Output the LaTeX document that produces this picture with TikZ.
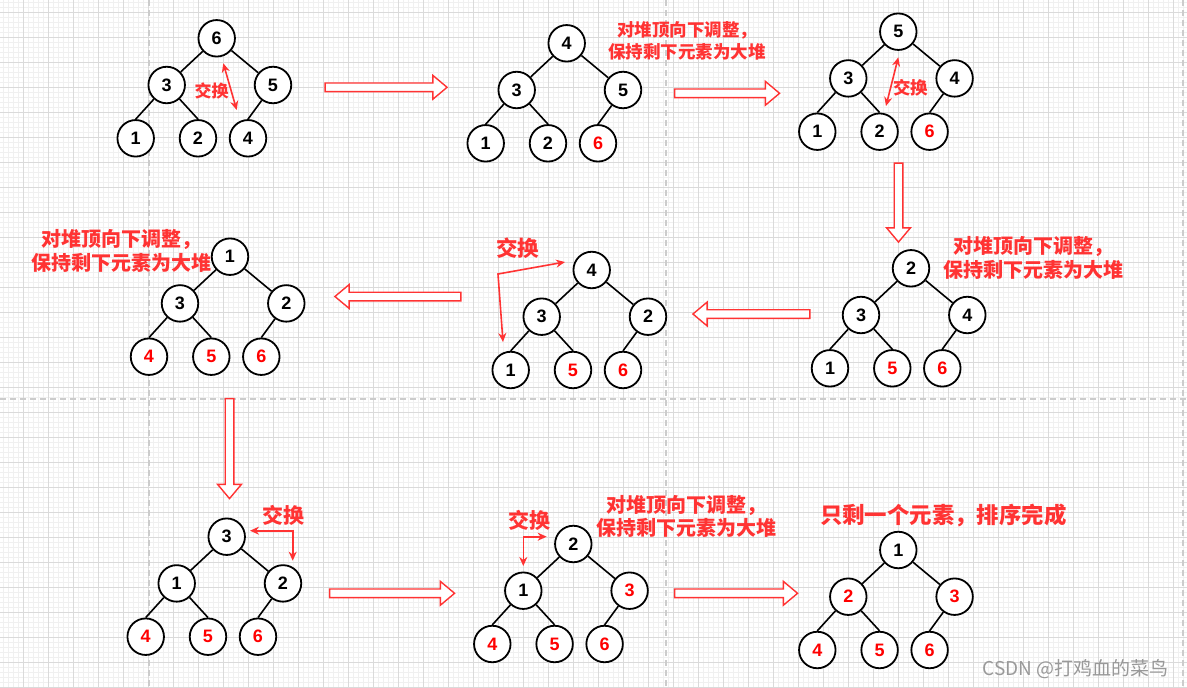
\documentclass[tikz,border=0pt]{standalone}
\usepackage{fontspec}
\setmainfont{Liberation Sans}
\newfontfamily\cjk{Noto Sans CJK SC}
\usetikzlibrary{arrows.meta,shapes.arrows}
\definecolor{hlred}{HTML}{FF3333}
\definecolor{numred}{HTML}{FF0000}
\definecolor{gridmajor}{HTML}{DADADA}
\definecolor{gridminor}{HTML}{F0F0F0}
\definecolor{sepgray}{HTML}{CCCCCC}

\begin{document}
\begin{tikzpicture}[x=1pt,y=-1pt,
    ball/.style={circle, draw, line width=1.8pt, fill=white, minimum size=36.5pt,
        inner sep=0pt, font=\fontsize{18}{18}\selectfont\bfseries},
    link/.style={line width=1.6pt},
    swap/.style={hlred, line width=1.6pt,
        {Stealth[length=9pt,width=8pt]}-{Stealth[length=9pt,width=8pt]}},
    note/.style 2 args={text=hlred, align=center, inner sep=0pt,
        font=\cjk\bfseries\fontsize{#1}{#2}\selectfont},
    flow/.style={single arrow, draw=hlred, fill=white, line width=1.4pt,
        inner sep=3.6pt, single arrow head extend=7.6pt,
        single arrow tip angle=80},
    sep/.style={sepgray, line width=1.4pt, dash pattern=on 6pt off 4pt},
]

% Red keys (already sorted)
\def\R{\color{numred}}

% One heap: name, root position, then the six keys in level order
\newcommand\heap[9]{
    \node[ball] (#1r) at (#2,#3) {#4};
    \node[ball] (#1a) at (#2-50,#3+46.7) {#5};
    \node[ball] (#1b) at (#2+56.3,#3+46.7) {#6};
    \node[ball] (#1c) at (#2-81,#3+100) {#7};
    \node[ball] (#1d) at (#2-18.7,#3+100) {#8};
    \node[ball] (#1e) at (#2+31.3,#3+100) {#9};
    \draw[link] (#1r) -- (#1a);
    \draw[link] (#1r) -- (#1b);
    \draw[link] (#1a) -- (#1c.north);
    \draw[link] (#1a) -- (#1d.north);
    \draw[link] (#1b) -- (#1e.north);
}

% Page and grid paper
\useasboundingbox (0,0) rectangle (1187,688);
\fill[white] (0,0) rectangle (1187,688);
\begin{scope}
    \clip (0,0) rectangle (1187,688);
    \begin{scope}[shift={(23.3,12.3)}]
        \draw[gridminor, line width=0.8pt, step=5pt] (-30,690) grid (1180,-30);
        \draw[gridmajor, line width=1pt, step=25pt] (-30,690) grid (1180,-30);
    \end{scope}
    \draw[sep] (149,0) -- (149,688);
    \draw[sep] (666,0) -- (666,688);
    \draw[sep] (1183,0) -- (1183,688);
    \draw[sep] (0,399) -- (1187,399);
\end{scope}

% Steps between heaps
\node[flow, minimum height=122pt] (F1) at (383.5,87.3) {};
\node[flow, minimum height=105pt] (F2) at (724.5,93.3) {};
\node[flow, minimum height=79pt, rotate=-90] (F3) at (898.5,200) {};
\node[flow, minimum height=117pt, rotate=180] (F4) at (754,314) {};
\node[flow, minimum height=126pt, rotate=180] (F5) at (400.5,296.5) {};
\node[flow, minimum height=100pt, rotate=-90] (F6) at (229.5,446) {};
\node[flow, minimum height=125pt] (F7) at (389.5,593.3) {};
\node[flow, minimum height=123pt] (F8) at (733.5,593.3) {};

% Heaps
\heap{A}{216.7}{38.3}{6}{3}{5}{1}{2}{4}
\heap{B}{566.7}{43.3}{4}{3}{5}{1}{2}{\R6}
\heap{C}{898.3}{31.7}{5}{3}{4}{1}{2}{\R6}
\heap{D}{911}{268.3}{2}{3}{4}{1}{\R5}{\R6}
\heap{E}{591.7}{270}{4}{3}{2}{1}{\R5}{\R6}
\heap{F}{230}{256.7}{1}{3}{2}{\R4}{\R5}{\R6}
\heap{G}{226.7}{536.7}{3}{1}{2}{\R4}{\R5}{\R6}
\heap{H}{573.3}{544}{2}{1}{\R3}{\R4}{\R5}{\R6}
\heap{I}{898.3}{550}{1}{\R2}{\R3}{\R4}{\R5}{\R6}

% Swaps
\coordinate (As1) at (223.3,63.3);
\coordinate (As2) at (236.7,110);
\draw[swap] (As1) -- (As2);
\node[note={17}{20}] (Aswap) at (211.7,91) {交换};

\coordinate (Cs1) at (898.3,57.3);
\coordinate (Cs2) at (886,106);
\draw[swap] (Cs1) -- (Cs2);
\node[note={17.5}{20}] (Cswap) at (910.8,87.5) {交换};

\coordinate (Es1) at (565,262);
\coordinate (Es2) at (498,274);
\coordinate (Es3) at (503,342);
\draw[swap] (Es1) -- (Es2) -- (Es3);
\node[note={21.5}{26}] (Eswap) at (517.7,248.3) {交换};

\coordinate (Gs1) at (250,530.7);
\coordinate (Gs2) at (292.7,530.7);
\coordinate (Gs3) at (292.7,560.7);
\draw[swap] (Gs1) -- (Gs2) -- (Gs3);
\node[note={21}{26}] (Gswap) at (283,515) {交换};

\coordinate (Hs1) at (546.7,536.7);
\coordinate (Hs2) at (523.3,536.7);
\coordinate (Hs3) at (523.3,566);
\draw[swap] (Hs1) -- (Hs2) -- (Hs3);
\node[note={21}{26}] (Hswap) at (529.2,520) {交换};

% Sift-down notes
\node[note={17.5}{21.7}] (Bnote) at (687,40.8) {对堆顶向下调整，\\保持剩下元素为大堆};
\node[note={20}{24}] (Dnote) at (1033.5,258) {对堆顶向下调整，\\保持剩下元素为大堆};
\node[note={20}{23.5}] (Fnote) at (121,251) {对堆顶向下调整，\\保持剩下元素为大堆};
\node[note={20}{23.3}] (Hnote) at (686,516.7) {对堆顶向下调整，\\保持剩下元素为大堆};
\node[note={22.4}{27}] (Inote) at (943.3,515) {只剩一个元素，排序完成};

% Watermark
\node[text=black!40, inner sep=0pt, font=\cjk\fontsize{19}{19}\selectfont] (mark)
    at (1075.5,669) {CSDN @打鸡血的菜鸟};

\end{tikzpicture}
\end{document}
